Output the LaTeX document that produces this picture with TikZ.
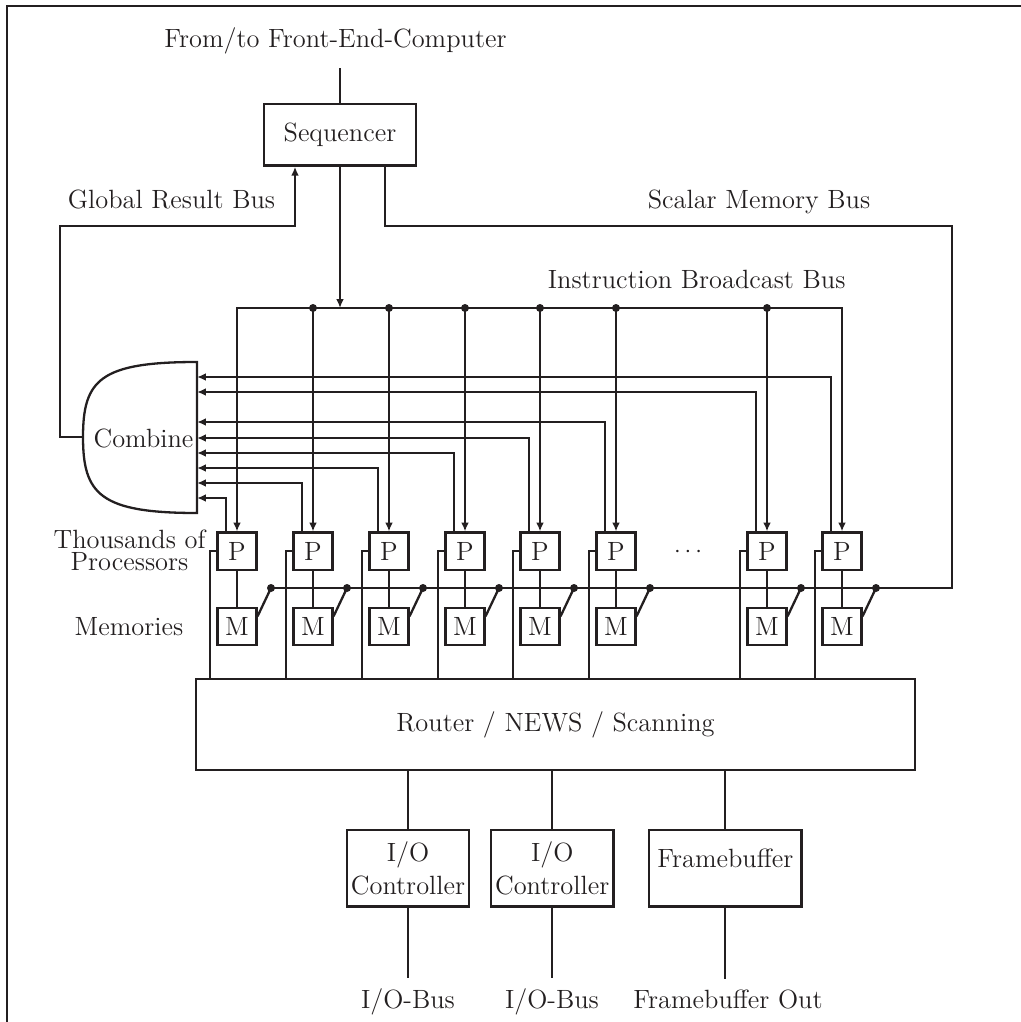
\documentclass[tikz,border=0pt]{standalone}
\usetikzlibrary{arrows.meta}
\definecolor{ink}{RGB}{35,31,32}
\begin{document}
\begin{tikzpicture}[x=0.5pt,y=-0.5pt, line width=1.15pt, draw=ink,
  every node/.style={font=\fontsize{13.2pt}{16pt}\selectfont, text=ink},
  box/.style={draw=ink, line width=1.15pt, inner sep=0pt, align=center},
  pbox/.style={box, minimum width=19.4pt, minimum height=18.6pt},
  arr/.style={-{Latex[length=4.4pt,width=3.8pt]}},
  arrboth/.style={{Latex[length=4.4pt,width=3.8pt]}-{Latex[length=4.4pt,width=3.8pt]}},
  jdot/.style={fill=ink}]
\useasboundingbox (0,0) rectangle (1021,1022);
% frame
\draw (7,1022) -- (7,6) -- (1021,6);

% labels
\node[anchor=base, outer sep=3.5pt] (ftc) at (335.5,48) {From/to Front-End-Computer};
\node[anchor=base east] (grbl) at (283,208) {Global Result Bus};
\node[anchor=base] (smbl) at (759,208) {Scalar Memory Bus};
\node[anchor=base west] (ibbl) at (540,288) {Instruction Broadcast Bus};
\node[anchor=base, align=center, font=\fontsize{13.2pt}{11pt}\selectfont] (thp) at (129.5,570) {Thousands of\\Processors};
\node[anchor=base] (meml) at (129,635) {Memories};
\node[anchor=base] (dots) at (688,557) {$\cdots$};

% sequencer
\node[box, minimum width=76pt, minimum height=30.8pt] (seq) at (340,134.8) {Sequencer};
\draw (ftc.south -| seq.north) -- (seq.north);

% combine
\draw (197,362) .. controls (100,362) and (83,380) .. (83,437)
      .. controls (83,494) and (100,513) .. (197,513) -- cycle;
\node[anchor=base] (comb) at (143.5,447) {Combine};
\coordinate (combW) at (83,437);
\coordinate (grbA) at (60,226);
\draw[arr] (combW) -| (grbA) -| ([xshift=-22.5pt]seq.south);

% scalar memory bus
\coordinate (smbA) at (952,226);
\coordinate (mbL) at (271,588);
\draw ([xshift=22.5pt]seq.south) |- (smbA) |- (mbL);

% instruction broadcast
\coordinate (ibS) at (340,308);
\draw[arr] (seq.south) -- (ibS);

% router
\node[box, minimum width=359.5pt, minimum height=45.5pt] (router) at (555.5,724.5) {Router / NEWS / Scanning};

% processors and memories
\foreach \i/\cx/\oy in {1/237/498, 2/313/483, 3/389/468, 4/465/453, 5/540/438, 6/616/422, 7/767/392, 8/842/377} {
  \node[pbox] (P\i) at (\cx,551.2) {P};
  \node[pbox] (M\i) at (\cx,626.3) {M};
  \coordinate (ib\i) at (\cx,308);
  \coordinate (cin\i) at (197,\oy);
  \coordinate (md\i) at ({\cx+34},588);
  \draw[arr] ([xshift=-5.5pt]P\i.north) |- (cin\i);
  \draw (P\i) -- (M\i);
  \fill[jdot] (md\i) circle[radius=2pt];
  \draw (md\i) -- ([yshift=5pt]M\i.east);
  \draw (P\i.west) -- ++(-6.5,0) coordinate (rt\i) -- (rt\i |- router.north);
}
\draw[arrboth] (P1.north) -- (ib1) -- (ib8) -- (P8.north);
\foreach \i in {2,...,7} {
  \draw[arr] (ib\i) -- (P\i.north);
  \fill[jdot] (ib\i) circle[radius=2pt];
}

% I/O
\node[box, minimum width=61.3pt, minimum height=38.3pt, font=\fontsize{13.2pt}{16.5pt}\selectfont] (io1) at (408,868.3) {I/O\\Controller};
\node[box, minimum width=61.3pt, minimum height=38.3pt, font=\fontsize{13.2pt}{16.5pt}\selectfont] (io2) at (552.2,868.3) {I/O\\Controller};
\node[box, minimum width=76.3pt, minimum height=38.3pt] (fb) at (725.3,868.3) {};
\node (fbt) at (725.3,858) {Framebuffer};
\draw (io1.north |- router.south) -- (io1.north);
\draw (io2.north |- router.south) -- (io2.north);
\draw (fb.north |- router.south) -- (fb.north);

\node[anchor=base, outer sep=1.8pt] (iob1) at (408,1008) {I/O-Bus};
\node[anchor=base, outer sep=1.8pt] (iob2) at (552,1008) {I/O-Bus};
\node[anchor=base, outer sep=1.8pt] (fbo) at (728,1008) {Framebuffer Out};
\draw (io1.south) -- (io1.south |- iob1.north);
\draw (io2.south) -- (io2.south |- iob2.north);
\draw (fb.south) -- (fb.south |- fbo.north);
\end{tikzpicture}
\end{document}
